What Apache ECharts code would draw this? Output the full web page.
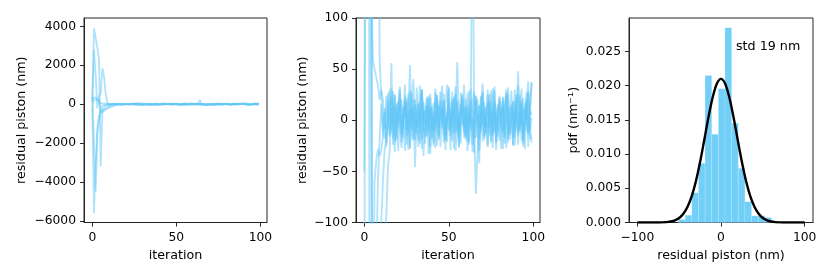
<!DOCTYPE html>
<html><head><meta charset="utf-8">
<script src="https://cdn.jsdelivr.net/npm/echarts@6/dist/echarts.min.js"></script>
<style>html,body{margin:0;padding:0;background:#fff}#c{width:830px;height:277px}</style>
</head><body><div id="c"></div>
<script>
// residual piston (nm) per iteration, six traces (index = iteration)
const piston1 = [250, 3900, 3950, 2900, 2300, -3200, -400, -150, -60, -20, 15, -10,
  8, -22, 14, 30, -5, -18, 25, 3, -30, 12,
  20, -8, 35, -15, 5, -27, 18, 40, -12, 2,
  -20, 10, 28, -35, 6, 15, -10, 22, -3, -25,
  31, 9, -14, 19, -6, 26, -19, 4, 13, -29,
  17, -2, 33, -11, 7, -23, 21, 11, -16, 27,
  -8, 3, -31, 16, 24, -4, -18, 12, 36, -9,
  1, -26, 20, 8, -13, 29, -21, 5, 14, -7,
  23, -17, 10, 32, -12, 0, -24, 18, 6, -15,
  25, -5, 11, -28, 19, 38, -10, 2];
const piston2 = [100, 2800, 1500, -200, 400, 600, 1850, 1400, 500, 60, 25, -12,
  -18, 5, 27, -9, 56, -24, 14, 10, -3, 21,
  -14, 6, -30, 18, 2, 54, -11, -20, 16, 4,
  -26, 12, 30, -7, -16, 22, 1, -33, 9, 17,
  -5, 25, -19, 7, 11, -22, 15, 35, -10, -1,
  20, -28, 8, 57, -13, 3, 26, -17, 13, -6,
  -21, 19, 9, -32, 24, -2, 14, -9, 28, -15,
  5, -25, 18, -4, 31, -12, 7, 16, -20, 2,
  22, -8, -27, 13, 4, 29, -16, 10, -3, 48,
  -11, 17, -23, 6, 20, -14, 9, 37];
const piston3 = [-100, -5600, -3000, -1200, -600, -300, -60, -40, -28, -35, -30, -15,
  12, -26, 3, 19, -11, 28, -6, -20, 15, 33,
  -2, -17, 24, 8, -29, 11, -8, 21, -46, 6,
  17, -12, 30, -4, -23, 14, 1, 26, -18, 9,
  -27, 20, -7, 12, 34, -15, 4, -21, 18, -10,
  7, 23, -30, 2, -14, 27, 10, -6, -19, 15,
  -3, 31, -24, 8, 19, -11, -42, 22, 5, -16,
  13, -8, 26, -20, 3, 17, -29, 9, 24, -5,
  -13, 11, 30, -22, 6, -2, 18, -17, 25, 1,
  -9, 20, -26, 14, -4, 28, -18, -17];
const piston4 = [350, -2000, -4500, -1500, -800, -450, -300, -250, -220, -180, -100, -60,
  -28, -20, 10, -15, 22, 4, -31, 16, -8, 25,
  -13, 7, 19, -24, 1, 29, -10, 14, -19, 32,
  -5, 9, -28, 18, 3, -16, 24, -11, 12, -22,
  27, -3, 15, -26, 8, 20, -14, 2, 33, -9,
  -20, 11, 26, -7, -25, 16, 5, -12, 21, -30,
  10, -2, 18, 28, -17, 6, -8, 24, -21, 13,
  -6, 30, -15, 9, -27, 17, 3, -11, 22, -4,
  15, -23, 7, 26, -14, -1, 19, -25, 11, 34,
  -7, 16, -20, 4, 27, -12, 8, 37];
const piston5 = [320, 380, 350, 300, 200, -300, -420, -350, -280, -220, -180, -150,
  -120, -93, -45, -30, 12, -6, 25, -17, 8, 30,
  -22, 3, 15, -9, 26, -28, 11, -1, 20, -14,
  6, 34, -19, 10, -4, 23, -33, 14, 1, -11,
  19, -25, 7, 28, -8, 13, -20, 5, 31, -15,
  -2, 22, -12, 17, -27, 9, 24, -6, 12, -21,
  29, -10, 3, -18, 14, 21, -30, 7, -5, 18,
  -13, 25, 2, -22, 11, 33, -9, -16, 20, 6,
  -28, 12, 27, -3, -19, 15, 4, -11, 23, -24,
  9, 31, -14, 2, 18, -26, 10, 5];
const piston6 = [-50, 250, 300, 220, 150, 60, 50, 42, 35, 20, 30, 20,
  -9, 24, 4, -16, 31, 11, -21, 7, 18, -4,
  -27, 13, 2, 22, -12, 9, 27, -18, 5, -7,
  16, -23, 30, -1, 10, -14, 21, -26, 8, 3,
  -11, 25, -17, 14, -3, 19, -29, 6, 12, -8,
  28, -13, 1, 20, -20, 10, -5, 35, -16, 7,
  -24, 20, 230, -10, -72, -30, 15, -12, 26, -19,
  4, 17, -6, 29, -15, 8, -22, 12, 1, -28,
  19, -9, 24, -18, 6, 13, -25, 30, -2, -13,
  10, -20, 22, 3, -11, 27, -7, -22];
const traces = [piston1, piston2, piston3, piston4, piston5, piston6];

const iterTicks = [0, 50, 100];
const pistonTicksWide = [-6000, -4000, -2000, 0, 2000, 4000];
const pistonTicksZoom = [-100, -50, 0, 50, 100];
const histXTicks = [-100, 0, 100];
const histYTicks = [0, 0.005, 0.010, 0.015, 0.020, 0.025];

// histogram of residual piston (nm): bin edges and pdf heights
const binEdges = [-50.8, -42.86, -34.92, -26.98, -19.04, -11.1, -3.16, 4.78, 12.72, 20.66, 28.6, 36.54, 44.48, 52.42, 60.36];
const binHeights = [0.00044, 0.00107, 0.00435, 0.00866, 0.02148, 0.0129, 0.01957, 0.02848, 0.01453, 0.00793, 0.00303, 0.00097, 0.00097, 0.00073];

// fitted gaussian (std 19 nm)
const gaussX = [-100,-95,-90,-85,-80,-75,-70,-65,-60,-55,-50,-45,-40,-35,-30,-25,-20,-15,-10,-5,0,5,10,15,20,25,30,35,40,45,50,55,60,65,70,75,80,85,90,95,100];
const gaussY = [0,0,0,0,0,0.000009,0.000024,0.00006,0.00014,0.00032,0.00066,0.00127,0.00229,0.00385,0.00604,0.00884,0.01207,0.01538,0.01828,0.02029,0.0210,0.02029,0.01828,0.01538,0.01207,0.00884,0.00604,0.00385,0.00229,0.00127,0.00066,0.00032,0.00014,0.00006,0.000024,0.000009,0,0,0,0,0];

const FONT = 'DejaVu Sans';
const TICKFS = 12.3, LABFS = 12.7;
const AX = '#262626';
const minus = v => String(v).replace('-', '\u2212');

function axis(gridIndex, min, max, ticks, fmt, name, nameGap) {
  return {
    type: 'value', gridIndex, min, max,
    name, nameLocation: 'middle', nameGap,
    nameTextStyle: {fontFamily: FONT, fontSize: LABFS, color: '#000'},
    axisLine: {show: true, onZero: false, lineStyle: {color: AX, width: 1}},
    axisTick: {show: true, length: 4, customValues: ticks, lineStyle: {color: AX, width: 1}},
    axisLabel: {customValues: ticks, formatter: fmt, fontFamily: FONT, fontSize: TICKFS, color: '#000', margin: 9},
    splitLine: {show: false}
  };
}

const grids = [
  {left: 84, top: 18, width: 183, height: 204.5},
  {left: 356, top: 18, width: 184, height: 204.5},
  {left: 629, top: 18, width: 184, height: 204.5}
].map(g => Object.assign(g, {show: true, borderColor: AX, borderWidth: 1, containLabel: false}));

const xAxes = [
  axis(0, -4.95, 103.95, iterTicks, v => minus(v), 'iteration', 27),
  axis(1, -4.95, 103.95, iterTicks, v => minus(v), 'iteration', 27),
  axis(2, -110, 110, histXTicks, v => minus(v), 'residual piston (nm)', 27)
];
const yAxes = [
  axis(0, -6080, 4430, pistonTicksWide, v => minus(v), 'residual piston (nm)', 56),
  axis(1, -100, 100, pistonTicksZoom, v => minus(v), 'residual piston (nm)', 47),
  axis(2, 0, 0.0299, histYTicks, v => v.toFixed(3), 'pdf (nm\u207B\u00B9)', 49)
];
yAxes.forEach(a => { a.axisLabel.margin = 8; });

const LINECOLOR = 'rgb(95,198,248)';
const series = [];
[0, 1].forEach(gi => {
  traces.forEach(t => {
    series.push({
      type: 'line', xAxisIndex: gi, yAxisIndex: gi,
      data: t.map((v, i) => [i, v]),
      showSymbol: false, clip: true,
      lineStyle: {color: LINECOLOR, width: 1.8, opacity: 0.5},
      emphasis: {disabled: true}
    });
  });
});
series.push({
  type: 'custom', xAxisIndex: 2, yAxisIndex: 2,
  data: binHeights.map((h, i) => [binEdges[i], binEdges[i + 1], h]),
  encode: {x: [0, 1], y: 2},
  renderItem: (params, api) => {
    const p0 = api.coord([api.value(0), api.value(2)]);
    const p1 = api.coord([api.value(1), 0]);
    return {type: 'rect', shape: {x: p0[0], y: p0[1], width: p1[0] - p0[0], height: p1[1] - p0[1]},
      style: {fill: '#72cff8', stroke: 'rgba(255,255,255,0.25)', lineWidth: 0.6}};
  }
});
series.push({
  type: 'line', xAxisIndex: 2, yAxisIndex: 2,
  data: gaussX.map((x, i) => [x, gaussY[i]]),
  showSymbol: false, smooth: 0.3, z: 5,
  lineStyle: {color: '#000', width: 2.4}
});

const chart = echarts.init(document.getElementById('c'), null, {renderer: 'canvas'});
chart.setOption({
  animation: false,
  backgroundColor: '#fff',
  grid: grids, xAxis: xAxes, yAxis: yAxes, series,
  graphic: [{type: 'text', left: 736, top: 40, style: {text: 'std 19 nm', fontFamily: FONT, fontSize: LABFS, fill: '#000'}}]
});
</script></body></html>
